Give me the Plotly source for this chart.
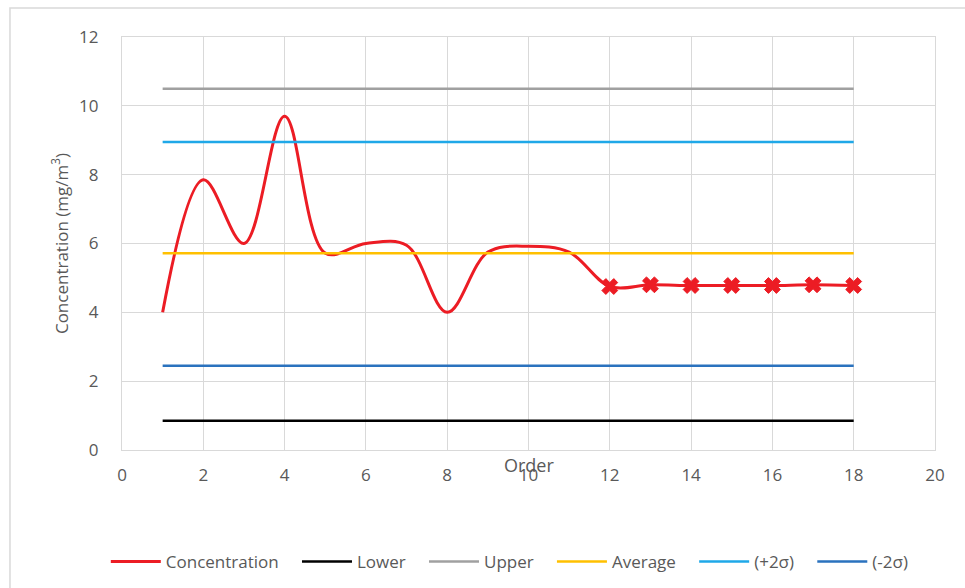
import plotly.graph_objects as go

# Measurement order and concentration readings (mg/m3)
order = list(range(1, 19))
concentration = [4.0, 7.85, 6.0, 9.7, 5.72, 6.0, 5.95, 4.0, 5.75,
                 5.92, 5.75, 4.75, 4.8, 4.78, 4.78, 4.78, 4.8, 4.78]

# Control limits
lower = 0.85
upper = 10.5
average = 5.72
plus_2sigma = 8.95
minus_2sigma = 2.45

# Points flagged with a cross marker
flagged_from = 12

x_ticks = list(range(0, 21, 2))
y_ticks = list(range(0, 13, 2))

font_family = "Open Sans, Liberation Sans, sans-serif"
text_color = "#595959"
grid_color = "#d9d9d9"
red = "#ec1c24"
pad = "\u00a0\u00a0\u00a0"  # extra spacing between legend entries

fig = go.Figure()

fig.add_trace(go.Scatter(
    x=order, y=concentration, name="Concentration" + pad,
    mode="lines",
    line=dict(color=red, width=3, shape="spline", smoothing=1),
))

flag_x = [o for o in order if o >= flagged_from]
flag_y = [c for o, c in zip(order, concentration) if o >= flagged_from]
fig.add_trace(go.Scatter(
    x=flag_x, y=flag_y, mode="markers", showlegend=False,
    marker=dict(symbol="x", size=14, color=red,
                line=dict(width=1, color=red)),
))

limits = [
    ("Lower", lower, "#000000"),
    ("Upper", upper, "#a0a0a0"),
    ("Average", average, "#ffc000"),
    ("(+2σ)", plus_2sigma, "#1fa8e8"),
    ("(-2σ)", minus_2sigma, "#2a72be"),
]
for i, (name, val, color) in enumerate(limits):
    label = name if i == len(limits) - 1 else name + pad
    fig.add_trace(go.Scatter(
        x=[order[0], order[-1]], y=[val, val], name=label,
        mode="lines", line=dict(color=color, width=2.5),
    ))

# outer chart frame
fig.add_shape(type="rect", xref="paper", yref="paper",
              x0=-0.1378, x1=1.2, y0=-0.5, y1=1.0702,
              line=dict(color=grid_color, width=1.5), layer="below")

fig.add_annotation(text="Order", xref="x", yref="paper", x=10, y=-0.036,
                   showarrow=False, font=dict(size=18, color=text_color),
                   xanchor="center", yanchor="middle")

fig.update_layout(
    width=965, height=588,
    margin=dict(l=122, r=30, t=37, b=138, autoexpand=False),
    paper_bgcolor="white", plot_bgcolor="white",
    font=dict(family=font_family, size=17, color=text_color),
    showlegend=True,
    legend=dict(orientation="h", x=0.477, xanchor="center",
                y=-0.271, yanchor="middle",
                font=dict(size=17, color=text_color),
                itemwidth=50, tracegroupgap=0),
    xaxis=dict(range=[0, 20], tickvals=x_ticks, showgrid=True,
               gridcolor=grid_color, gridwidth=1.2, zeroline=False,
               showline=True, linecolor=grid_color, linewidth=1.2,
               mirror=True, ticks="", ticklabelstandoff=9,
               tickfont=dict(size=17)),
    yaxis=dict(range=[0, 12], tickvals=y_ticks, showgrid=True,
               gridcolor=grid_color, gridwidth=1.2, zeroline=False,
               showline=True, linecolor=grid_color, linewidth=1.2,
               mirror=True, ticks="", ticklabelstandoff=19,
               tickfont=dict(size=17),
               title=dict(text="Concentration (mg/m<sup>3</sup>)",
                          font=dict(size=17, color=text_color),
                          standoff=6)),
)

fig.write_html("out.html")
